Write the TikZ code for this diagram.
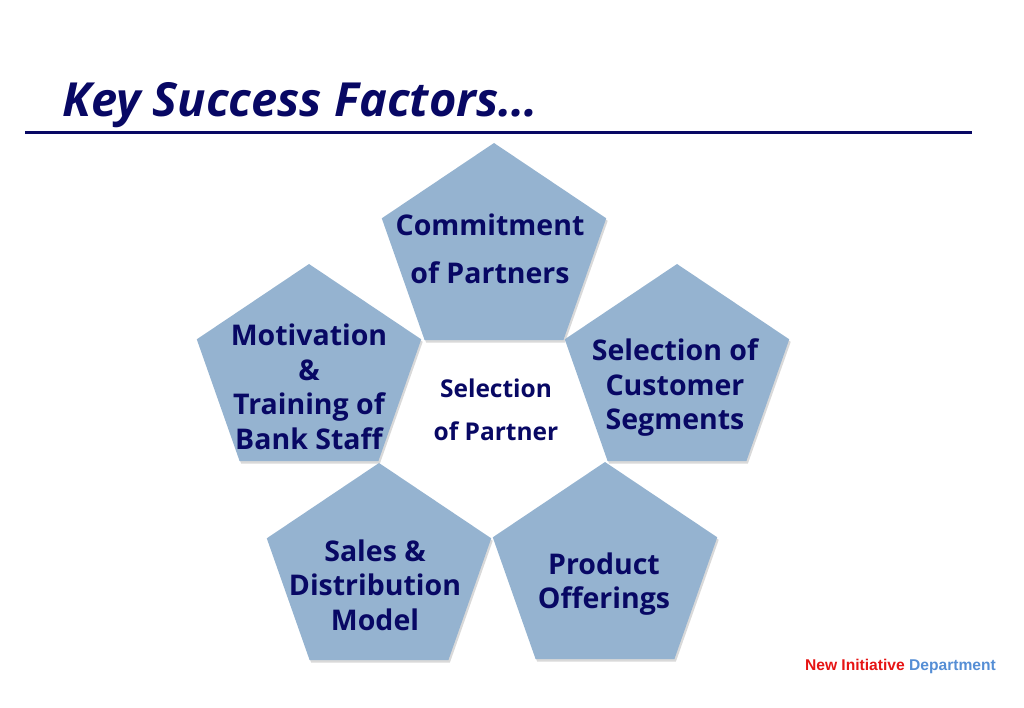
\documentclass[tikz,border=0pt]{standalone}
\usepackage{fontspec}
\setmainfont{Open Sans}
\newfontfamily\footfont{Liberation Sans}
\usetikzlibrary{shadows}
\definecolor{navy}{RGB}{8,8,100}
\definecolor{pentblue}{RGB}{149,179,208}
\definecolor{footred}{RGB}{230,20,20}
\definecolor{footblue}{RGB}{85,142,213}

\begin{document}
\begin{tikzpicture}[
  x=1pt, y=-1pt,
  every node/.style={text=navy, font=\bfseries, inner sep=0},
  pent/.style={fill=pentblue, drop shadow={shadow xshift=1.5pt, shadow yshift=-2.5pt, opacity=0.3}},
  lbl/.style={align=center, font=\bfseries\fontsize{28.5}{34.5}\selectfont},
]
\useasboundingbox (0,0) rectangle (1024,708);

%% ── title and rule ─────────────────────────────────────────────
\node[anchor=base west, font=\bfseries\itshape\fontsize{47}{56}\selectfont] (title) at (62,117) {Key Success Factors\ldots};
\coordinate (ruleL) at (25,133);
\coordinate (ruleR) at (972,133);
\draw[navy, line width=3pt] (ruleL) -- (ruleR);

%% ── five pentagons (118 x 109 radii) ───────────────────────────
\foreach \n/\cx/\cy in {ptop/494/252, pleft/309/373, pright/677/373, pbotl/379/572, pbotr/605/571} {
  \coordinate (\n) at (\cx,\cy);
  \path[pent] (\n) +(-90:118 and 109) -- +(-18:118 and 109) -- +(54:118 and 109)
    -- +(126:118 and 109) -- +(198:118 and 109) -- cycle;
}

%% ── labels ─────────────────────────────────────────────────────
\node[lbl] (commit)  at (490,249) {Commitment\\[13pt]of Partners};
\node[lbl] (motiv)   at (309,387) {Motivation\\\&\\Training of\\Bank Staff};
\node[lbl] (custseg) at (675,388) {Selection of\\Customer\\Segments};
\node[lbl] (sales)   at (375,585) {Sales \&\\Distribution\\Model};
\node[lbl] (product) at (604,584) {Product\\Offerings};
\node[lbl, font=\bfseries\fontsize{24.5}{30}\selectfont] (centre) at (496,410) {Selection\\[13pt]of Partner};

%% footer
\node[anchor=base east, font=\footfont\bfseries\fontsize{15.6}{18}\selectfont] (footer) at (996,670)
  {\textcolor{footred}{New Initiative} \textcolor{footblue}{Department}};

\end{tikzpicture}
\end{document}
